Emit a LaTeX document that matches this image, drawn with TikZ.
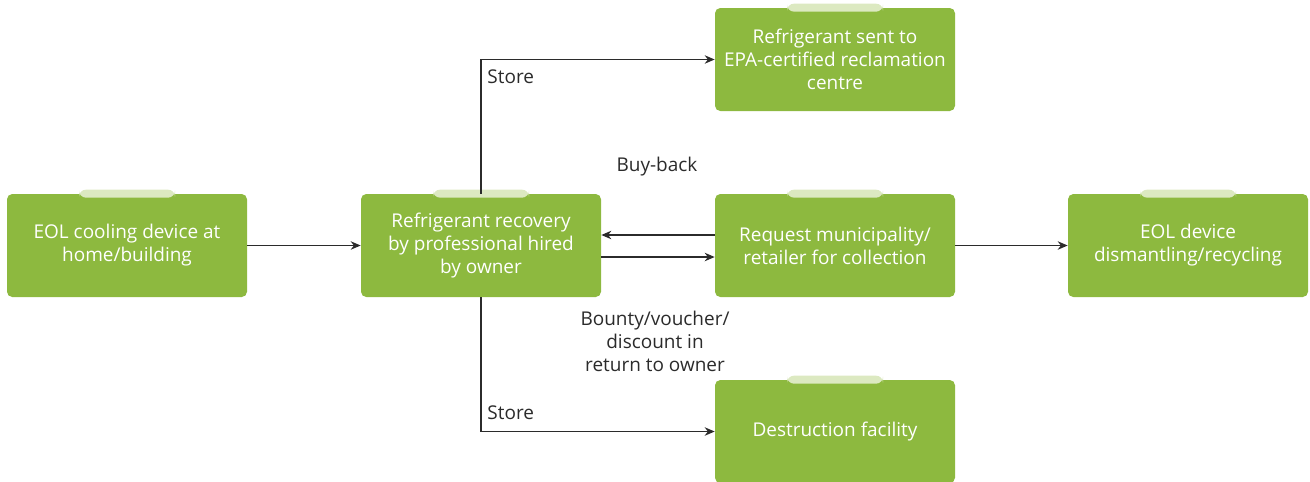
\documentclass[tikz,border=0pt]{standalone}
\usepackage{fontspec}
\setmainfont{Open Sans}
\usetikzlibrary{arrows.meta}

\definecolor{boxgreen}{HTML}{8DB93F}
\definecolor{tabgreen}{HTML}{DCE9C1}
\definecolor{linegray}{HTML}{2B2B2B}

\begin{document}
\begin{tikzpicture}[x=0.02cm, y=-0.02cm,
    stap/.style={fill=boxgreen, rounded corners=3pt, minimum width=240*0.02cm,
        minimum height=103*0.02cm, text=white, align=center, font=\fontsize{10.8}{13.1}\selectfont},
    pijl/.style={-{Stealth[length=0.2cm, width=0.17cm]}, linegray, line width=0.7pt},
    lbl/.style={text=linegray, font=\fontsize{10.8}{13.1}\selectfont, align=center}]
    \useasboundingbox (0,0) rectangle (1310,481);

    % De blokken
    \node[stap] (eol)     at (127,245.5)  {EOL cooling device at\\home/building};
    \node[stap] (recover) at (481,245.5)  {Refrigerant recovery\\by professional hired\\by owner};
    \node[stap] (request) at (835,245.5)  {Request municipality/\\retailer for collection};
    \node[stap] (dismant) at (1188,245.5) {EOL device\\dismantling/recycling};
    \node[stap] (reclaim) at (835,59.5)   {Refrigerant sent to\\EPA-certified reclamation\\centre};
    \node[stap] (destroy) at (835,431.5)  {Destruction facility};

    % Lichte tabjes bovenop elk blok
    \foreach \b in {eol, recover, request, dismant, reclaim, destroy}
        \fill[tabgreen, rounded corners=4pt] ([xshift=-48*0.02cm, yshift=4*0.02cm]\b.north)
            rectangle ([xshift=48*0.02cm, yshift=-4*0.02cm]\b.north);

    % Pijlen tussen de blokken
    \draw[pijl] (eol) -- (recover);
    \draw[pijl] (request.west |- 0,235) -- (recover.east |- 0,235);
    \draw[pijl] (recover.east |- 0,257) -- (request.west |- 0,257);
    \draw[pijl] (request) -- (dismant);
    \draw[pijl] (recover.north) |- (reclaim.west) node[pos=0.5, below right, lbl, yshift=-4*0.02cm] {Store};
    \draw[pijl] (recover.south) |- (destroy.west) node[pos=0.5, above right, lbl, yshift=5*0.02cm] {Store};

    % Teksten bij de pijlen
    \node[lbl] (buyback) at (657,167) {Buy-back};
    \node[lbl] (bounty)  at (655,341) {Bounty/voucher/\\discount in\\return to owner};
\end{tikzpicture}
\end{document}
